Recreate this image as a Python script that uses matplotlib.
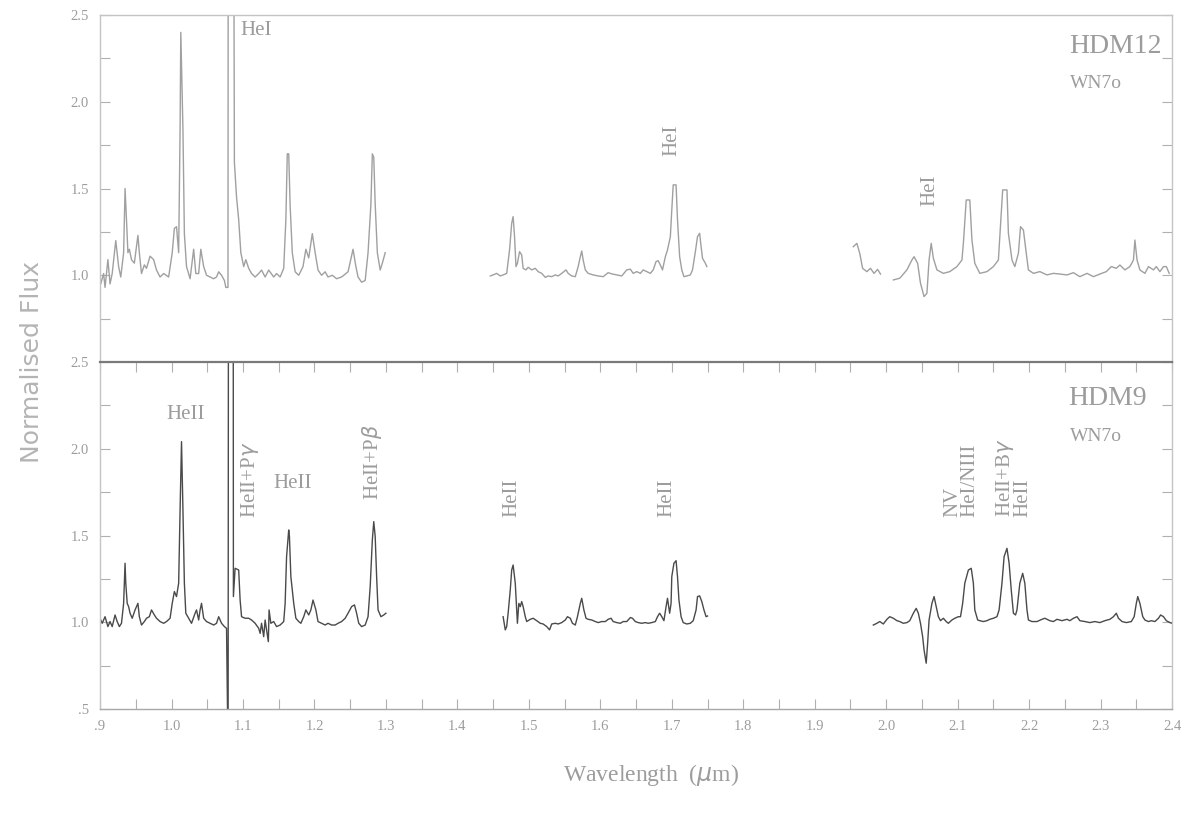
import matplotlib
matplotlib.use("Agg")
import matplotlib.pyplot as plt
from matplotlib.ticker import MultipleLocator, FixedLocator, FuncFormatter

# HDM12 (top panel), four pieces of spectrum
top_a_wl = [0.899, 0.901, 0.905, 0.907, 0.911, 0.914, 0.917, 0.922, 0.926, 0.929,
            0.933, 0.935, 0.937, 0.939, 0.941, 0.944, 0.948, 0.953, 0.955, 0.958,
            0.962, 0.965, 0.970, 0.975, 0.979, 0.984, 0.989, 0.996, 1.001, 1.004,
            1.007, 1.010, 1.012, 1.013, 1.016, 1.018, 1.021, 1.026, 1.031, 1.034,
            1.038, 1.041, 1.045, 1.049, 1.054, 1.059, 1.063, 1.066, 1.070, 1.074,
            1.076, 1.079, 1.0795, 1.0865, 1.088, 1.091, 1.094, 1.097, 1.101, 1.104,
            1.108, 1.112, 1.117, 1.122, 1.126, 1.131, 1.136, 1.143, 1.147, 1.152,
            1.157, 1.160, 1.162, 1.164, 1.166, 1.169, 1.173, 1.178, 1.184, 1.188,
            1.192, 1.197, 1.201, 1.205, 1.210, 1.215, 1.219, 1.225, 1.231, 1.238,
            1.247, 1.254, 1.258, 1.261, 1.266, 1.271, 1.275, 1.279, 1.281, 1.283,
            1.285, 1.288, 1.292, 1.295, 1.299]
top_a_flux = [1.05, 0.95, 1.01, 0.93, 1.09, 0.95, 1.01, 1.20, 1.05, 0.99,
              1.13, 1.50, 1.32, 1.13, 1.15, 1.09, 1.07, 1.23, 1.13, 1.01,
              1.06, 1.04, 1.11, 1.09, 1.03, 0.99, 1.01, 0.99, 1.13, 1.27,
              1.28, 1.13, 1.84, 2.40, 1.84, 1.24, 1.05, 0.98, 1.15, 1.01,
              1.01, 1.15, 1.05, 1.00, 0.99, 0.98, 0.99, 1.02, 1.00, 0.97,
              0.93, 0.93, 4.00, 4.00, 1.65, 1.45, 1.32, 1.13, 1.05, 1.09,
              1.04, 1.01, 0.99, 1.01, 1.03, 0.99, 1.03, 0.99, 1.01, 0.99,
              1.04, 1.32, 1.70, 1.70, 1.40, 1.13, 1.02, 1.00, 1.05, 1.15,
              1.10, 1.24, 1.13, 1.03, 1.00, 1.02, 0.99, 1.00, 0.98, 0.99,
              1.02, 1.15, 1.05, 0.99, 0.96, 0.97, 1.13, 1.41, 1.70, 1.68,
              1.41, 1.13, 1.03, 1.07, 1.13]

top_b_wl = [1.446, 1.450, 1.455, 1.460, 1.464, 1.469, 1.473, 1.476, 1.478, 1.480,
            1.482, 1.484, 1.487, 1.490, 1.492, 1.496, 1.499, 1.504, 1.509, 1.513,
            1.518, 1.523, 1.527, 1.532, 1.537, 1.541, 1.546, 1.552, 1.555, 1.560,
            1.565, 1.569, 1.572, 1.574, 1.576, 1.579, 1.583, 1.590, 1.597, 1.604,
            1.611, 1.616, 1.623, 1.630, 1.637, 1.642, 1.646, 1.651, 1.656, 1.660,
            1.665, 1.670, 1.674, 1.678, 1.681, 1.685, 1.687, 1.691, 1.694, 1.698,
            1.700, 1.702, 1.706, 1.708, 1.711, 1.714, 1.717, 1.721, 1.726, 1.729,
            1.733, 1.736, 1.739, 1.741, 1.743, 1.747, 1.749]
top_b_flux = [0.996, 1.002, 1.011, 0.996, 1.002, 1.011, 1.146, 1.300, 1.338, 1.223,
              1.050, 1.069, 1.136, 1.117, 1.040, 1.031, 1.046, 1.031, 1.040, 1.021,
              1.011, 0.988, 0.996, 0.992, 1.002, 0.996, 1.011, 1.031, 1.011, 0.996,
              0.992, 1.050, 1.107, 1.140, 1.088, 1.031, 1.011, 1.002, 0.996, 0.992,
              1.015, 1.008, 1.002, 0.996, 1.031, 1.035, 1.011, 1.021, 1.011, 1.031,
              1.021, 1.011, 1.031, 1.079, 1.084, 1.050, 1.031, 1.107, 1.146, 1.223,
              1.376, 1.521, 1.521, 1.319, 1.107, 1.031, 0.992, 0.996, 1.002, 1.031,
              1.136, 1.223, 1.242, 1.165, 1.098, 1.069, 1.050]

top_c_wl = [1.954, 1.959, 1.963, 1.967, 1.973, 1.978, 1.983, 1.988, 1.992]
top_c_flux = [1.165, 1.184, 1.127, 1.040, 1.021, 1.040, 1.011, 1.034, 1.007]

top_d_wl = [2.010, 2.019, 2.029, 2.036, 2.039, 2.044, 2.048, 2.053, 2.057, 2.060,
            2.063, 2.066, 2.071, 2.080, 2.089, 2.099, 2.106, 2.108, 2.112, 2.117,
            2.120, 2.124, 2.131, 2.141, 2.150, 2.157, 2.159, 2.163, 2.169, 2.171,
            2.176, 2.180, 2.185, 2.188, 2.192, 2.196, 2.199, 2.206, 2.215, 2.225,
            2.234, 2.243, 2.253, 2.262, 2.271, 2.281, 2.290, 2.299, 2.308, 2.315,
            2.322, 2.327, 2.334, 2.341, 2.346, 2.348, 2.351, 2.355, 2.362, 2.367,
            2.374, 2.378, 2.383, 2.388, 2.392, 2.396]
top_d_flux = [0.973, 0.983, 1.031, 1.088, 1.107, 1.069, 0.954, 0.877, 0.896, 1.088,
              1.184, 1.098, 1.031, 1.011, 1.021, 1.050, 1.088, 1.184, 1.434, 1.434,
              1.203, 1.069, 1.011, 1.021, 1.050, 1.088, 1.223, 1.492, 1.492, 1.242,
              1.088, 1.050, 1.127, 1.280, 1.261, 1.127, 1.031, 1.011, 1.021, 1.002,
              1.011, 1.007, 1.002, 1.015, 0.992, 1.011, 0.992, 1.007, 1.021, 1.050,
              1.040, 1.059, 1.031, 1.050, 1.088, 1.203, 1.088, 1.031, 1.011, 1.050,
              1.031, 1.050, 1.021, 1.050, 1.050, 1.011]

# HDM9 (bottom panel), three pieces of spectrum
bot_a_wl = [0.900, 0.903, 0.907, 0.911, 0.914, 0.917, 0.921, 0.924, 0.927, 0.930,
            0.933, 0.935, 0.936, 0.938, 0.940, 0.942, 0.945, 0.949, 0.953, 0.955,
            0.958, 0.962, 0.965, 0.969, 0.972, 0.976, 0.979, 0.984, 0.989, 0.993,
            0.998, 1.001, 1.004, 1.007, 1.010, 1.012, 1.014, 1.016, 1.018, 1.020,
            1.024, 1.028, 1.033, 1.035, 1.038, 1.040, 1.042, 1.045, 1.049, 1.054,
            1.059, 1.063, 1.066, 1.070, 1.074, 1.077, 1.0792, 1.0798, 1.0862, 1.0866,
            1.089, 1.094, 1.096, 1.098, 1.103, 1.108, 1.112, 1.117, 1.122, 1.124,
            1.126, 1.129, 1.131, 1.133, 1.1355, 1.1365, 1.139, 1.143, 1.147, 1.152,
            1.157, 1.159, 1.161, 1.164, 1.165, 1.167, 1.171, 1.174, 1.178, 1.181,
            1.185, 1.188, 1.192, 1.195, 1.198, 1.202, 1.205, 1.210, 1.215, 1.219,
            1.224, 1.229, 1.233, 1.238, 1.243, 1.247, 1.252, 1.256, 1.259, 1.262,
            1.266, 1.271, 1.275, 1.278, 1.281, 1.283, 1.285, 1.287, 1.289, 1.293,
            1.297, 1.300]
bot_a_flux = [1.023, 0.994, 1.032, 0.975, 1.004, 0.975, 1.042, 1.004, 0.975, 0.994,
              1.109, 1.340, 1.225, 1.109, 1.090, 1.052, 1.023, 1.071, 1.109, 1.032,
              0.984, 1.004, 1.023, 1.032, 1.071, 1.042, 1.023, 1.004, 0.994, 1.004,
              1.023, 1.109, 1.177, 1.148, 1.225, 1.647, 2.041, 1.647, 1.225, 1.052,
              1.023, 0.994, 1.052, 1.071, 1.013, 1.071, 1.109, 1.023, 1.004, 0.994,
              0.984, 0.994, 1.032, 0.994, 0.975, 0.965, 0.20, 4.00, 4.00, 1.148,
              1.311, 1.301, 1.128, 1.032, 1.023, 1.023, 1.013, 0.994, 0.965, 0.936,
              0.994, 0.917, 1.013, 0.956, 0.888, 1.071, 0.994, 1.004, 0.975, 0.984,
              1.004, 1.109, 1.378, 1.532, 1.494, 1.263, 1.109, 1.023, 1.004, 0.994,
              1.032, 1.071, 1.042, 1.071, 1.128, 1.071, 1.004, 0.994, 0.984, 0.994,
              0.984, 0.984, 0.994, 1.004, 1.023, 1.052, 1.090, 1.100, 1.052, 0.994,
              0.975, 0.984, 1.032, 1.205, 1.474, 1.580, 1.494, 1.263, 1.071, 1.032,
              1.042, 1.052]

bot_b_wl = [1.464, 1.467, 1.469, 1.471, 1.474, 1.476, 1.478, 1.481, 1.483, 1.484,
            1.486, 1.488, 1.490, 1.492, 1.495, 1.497, 1.502, 1.506, 1.511, 1.516,
            1.520, 1.525, 1.529, 1.532, 1.537, 1.541, 1.546, 1.551, 1.554, 1.558,
            1.561, 1.565, 1.568, 1.572, 1.574, 1.577, 1.580, 1.583, 1.588, 1.593,
            1.597, 1.602, 1.607, 1.611, 1.615, 1.618, 1.623, 1.628, 1.632, 1.637,
            1.642, 1.645, 1.649, 1.653, 1.658, 1.663, 1.667, 1.672, 1.677, 1.680,
            1.683, 1.686, 1.689, 1.692, 1.694, 1.697, 1.699, 1.700, 1.703, 1.706,
            1.708, 1.710, 1.713, 1.716, 1.721, 1.726, 1.730, 1.734, 1.736, 1.739,
            1.742, 1.745, 1.748, 1.750]
bot_b_flux = [1.032, 0.956, 0.975, 1.052, 1.186, 1.301, 1.330, 1.225, 1.071, 0.994,
              1.109, 1.090, 1.119, 1.090, 1.032, 1.004, 1.017, 1.023, 1.009, 0.994,
              0.990, 0.975, 0.956, 0.990, 0.994, 0.990, 0.998, 1.013, 1.032, 1.023,
              0.994, 0.984, 1.032, 1.109, 1.138, 1.071, 1.023, 1.017, 1.013, 1.004,
              0.998, 1.004, 1.004, 1.017, 1.023, 1.004, 0.998, 0.994, 1.004, 1.004,
              1.027, 1.023, 1.004, 0.998, 0.994, 0.998, 0.994, 0.998, 1.004, 1.032,
              1.052, 1.032, 1.009, 1.090, 1.138, 1.052, 1.109, 1.263, 1.340, 1.355,
              1.263, 1.129, 1.032, 0.998, 0.990, 0.994, 1.009, 1.071, 1.148, 1.152,
              1.119, 1.071, 1.032, 1.036]

bot_c_wl = [1.982, 1.987, 1.991, 1.996, 2.001, 2.005, 2.010, 2.015, 2.019, 2.024,
            2.029, 2.033, 2.038, 2.042, 2.045, 2.048, 2.051, 2.053, 2.056, 2.058,
            2.060, 2.064, 2.067, 2.070, 2.073, 2.076, 2.080, 2.084, 2.087, 2.092,
            2.096, 2.101, 2.104, 2.107, 2.110, 2.115, 2.119, 2.122, 2.124, 2.128,
            2.131, 2.136, 2.141, 2.145, 2.150, 2.155, 2.158, 2.162, 2.165, 2.169,
            2.172, 2.175, 2.178, 2.181, 2.183, 2.187, 2.191, 2.194, 2.197, 2.199,
            2.204, 2.211, 2.218, 2.222, 2.229, 2.234, 2.239, 2.246, 2.253, 2.257,
            2.262, 2.267, 2.271, 2.278, 2.285, 2.292, 2.299, 2.306, 2.313, 2.318,
            2.322, 2.325, 2.330, 2.336, 2.343, 2.347, 2.350, 2.352, 2.355, 2.359,
            2.362, 2.367, 2.371, 2.376, 2.381, 2.384, 2.388, 2.392, 2.397, 2.400]
bot_c_flux = [0.984, 0.994, 1.004, 0.990, 1.017, 1.032, 1.023, 1.009, 1.004, 0.994,
              0.998, 1.009, 1.052, 1.080, 1.052, 0.994, 0.917, 0.840, 0.764, 0.879,
              1.013, 1.109, 1.148, 1.090, 1.032, 1.009, 1.023, 1.004, 0.994, 1.013,
              1.023, 1.032, 1.032, 1.109, 1.225, 1.301, 1.311, 1.225, 1.071, 1.013,
              1.009, 1.004, 1.009, 1.017, 1.023, 1.032, 1.071, 1.225, 1.378, 1.426,
              1.340, 1.186, 1.052, 1.042, 1.071, 1.225, 1.282, 1.225, 1.071, 1.013,
              1.004, 1.004, 1.017, 1.023, 1.009, 1.004, 1.017, 1.009, 1.017, 1.009,
              1.023, 1.032, 1.009, 1.004, 0.998, 1.004, 0.998, 1.009, 1.017, 1.032,
              1.052, 1.023, 1.004, 0.998, 1.004, 1.032, 1.109, 1.148, 1.109, 1.032,
              1.013, 1.004, 1.009, 1.004, 1.023, 1.042, 1.032, 1.009, 0.998, 0.994]

TEXT = "#9c9c9c"
SERIF = ["Liberation Serif", "DejaVu Serif"]


def tick_fmt(v, pos):
    s = f"{v:.1f}"
    return s[1:] if s.startswith("0") else s


def style_axes(ax, show_low_label):
    ax.set_xlim(0.9, 2.4)
    ax.set_ylim(0.5, 2.5)
    ax.yaxis.set_major_locator(FixedLocator([0.5, 1.0, 1.5, 2.0, 2.5]))
    ax.yaxis.set_minor_locator(MultipleLocator(0.25))
    if show_low_label:
        ax.yaxis.set_major_formatter(FuncFormatter(tick_fmt))
    else:
        ax.yaxis.set_major_formatter(FuncFormatter(lambda v, p: "" if v < 0.75 else tick_fmt(v, p)))
    ax.xaxis.set_major_locator(MultipleLocator(0.1))
    ax.xaxis.set_minor_locator(MultipleLocator(0.05))
    ax.xaxis.set_major_formatter(FuncFormatter(tick_fmt))
    ax.tick_params(axis="y", which="both", direction="in", left=True, right=True,
                   length=7, width=0.8, color="#b0b0b0", labelcolor=TEXT,
                   labelsize=10.5, pad=8)
    for side in ["left", "right", "top", "bottom"]:
        ax.spines[side].set_color("#c4c4c4")
        ax.spines[side].set_linewidth(1.0)


fig = plt.figure(figsize=(12.01, 8.17), dpi=100)
ax1 = fig.add_axes([0.0833, 0.5569, 0.8926, 0.4247])
ax2 = fig.add_axes([0.0833, 0.1322, 0.8926, 0.4247])

# top panel: HDM12
for wl, fl in [(top_a_wl, top_a_flux), (top_b_wl, top_b_flux),
               (top_c_wl, top_c_flux), (top_d_wl, top_d_flux)]:
    ax1.plot(wl, fl, color="#a0a0a0", lw=1.0)
style_axes(ax1, False)
ax1.tick_params(axis="x", which="both", bottom=False, top=False, labelbottom=False)
for lab in ax1.get_yticklabels():
    lab.set_family(SERIF)

ax1.text(1.096, 2.41, "HeI", color=TEXT, fontsize=15, family=SERIF, ha="left", va="center")
ax1.text(1.700, 1.78, "HeI", color=TEXT, fontsize=15, family=SERIF, rotation=90,
         ha="center", va="center")
ax1.text(2.061, 1.49, "HeI", color=TEXT, fontsize=15, family=SERIF, rotation=90,
         ha="center", va="center")
ax1.text(2.385, 2.32, "HDM12", color=TEXT, fontsize=20, family=SERIF, ha="right", va="center")
ax1.text(2.257, 2.105, "WN7o", color=TEXT, fontsize=14, family=SERIF, ha="left", va="center")

# bottom panel: HDM9
for wl, fl in [(bot_a_wl, bot_a_flux), (bot_b_wl, bot_b_flux), (bot_c_wl, bot_c_flux)]:
    ax2.plot(wl, fl, color="#4a4a4a", lw=1.0)
style_axes(ax2, True)
ax2.tick_params(axis="x", which="both", direction="in", bottom=True, top=True,
                length=7, width=0.8, color="#b0b0b0", labelcolor=TEXT,
                labelsize=10.5, pad=8)
for lab in ax2.get_xticklabels() + ax2.get_yticklabels():
    lab.set_family(SERIF)
ax2.spines["top"].set_color("#7a7a7a")
ax2.spines["top"].set_linewidth(1.6)
ax2.spines["bottom"].set_color("#a8a8a8")

ax2.text(1.020, 2.20, "HeII", color=TEXT, fontsize=15, family=SERIF, ha="center", va="center")
ax2.text(1.170, 1.80, "HeII", color=TEXT, fontsize=15, family=SERIF, ha="center", va="center")
rot_labels = [
    (1.110, 1.60, "HeII+P$\\gamma$"),
    (1.280, 1.705, "HeII+P$\\beta$"),
    (1.476, 1.607, "HeII"),
    (1.693, 1.607, "HeII"),
    (2.105, 1.607, "NV\nHeI/NIII"),
    (2.178, 1.607, "HeII+B$\\gamma$\nHeII"),
]
for x, y, s in rot_labels:
    ax2.text(x, y, s, color=TEXT, fontsize=15, family=SERIF, rotation=90,
             ha="center", va="bottom", multialignment="left", linespacing=0.85)
ax2.text(2.254, 2.287, "HDM9", color=TEXT, fontsize=20, family=SERIF, ha="left", va="center")
ax2.text(2.257, 2.068, "WN7o", color=TEXT, fontsize=14, family=SERIF, ha="left", va="center")

fig.text(0.027, 0.5569, "Normalised Flux", color="#b4b4b4", fontsize=18,
         rotation=90, ha="center", va="center")
fig.text(0.542, 0.052, "Wavelength  ($\\mu$m)", color=TEXT, fontsize=17,
         family=SERIF, ha="center", va="center")

fig.savefig("out.png", dpi=100)
